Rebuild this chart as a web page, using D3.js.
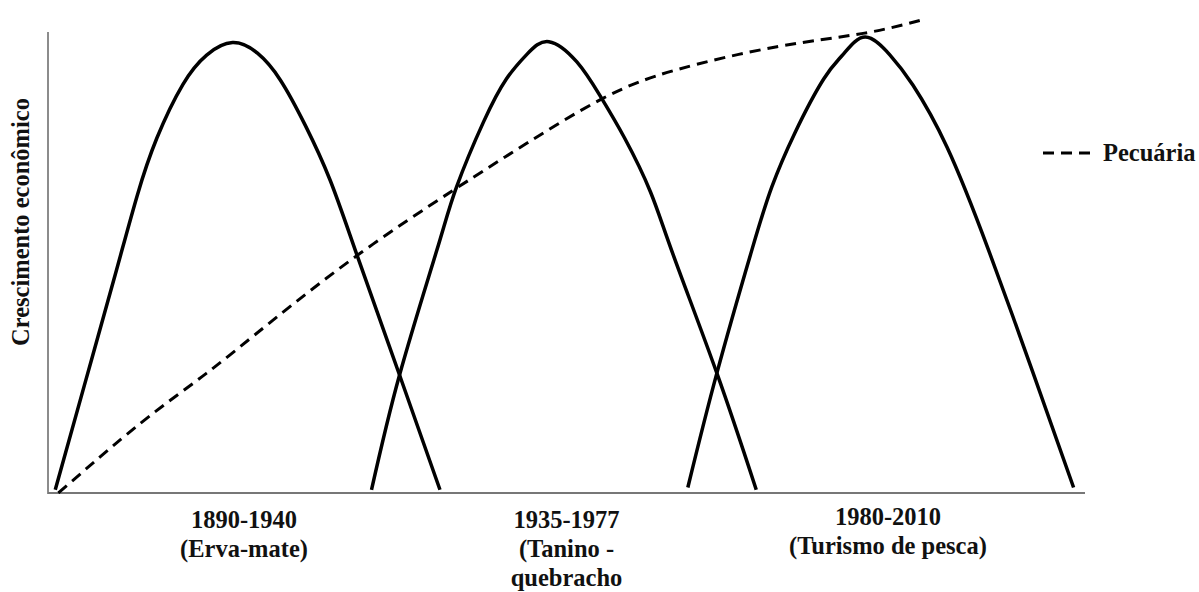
<!DOCTYPE html>
<html>
<head>
<meta charset="utf-8">
<script src="https://cdn.jsdelivr.net/npm/d3@7"></script>
<style>
  html, body { margin: 0; padding: 0; background: #fff; }
  svg text { font-family: "Liberation Serif", "Times New Roman", serif; font-weight: bold; fill: #111; }
</style>
</head>
<body>
<div id="chart"></div>
<script>
// cycles: [x, y] in arbitrary 0-100 units
const ervaMate = [[0.7, 0.7], [3.6, 24.1], [6.5, 47.5], [8.6, 64.5], [10.5, 77.0], [13.0, 88.6], [15.3, 95.0],
  [17.8, 97.7], [20.2, 95.4], [22.4, 89.6], [24.8, 79.8], [27.2, 67.9], [29.8, 51.6], [33.9, 25.6], [37.8, 0.7]];
const tanino = [[31.2, 0.7], [33.9, 25.6], [37.5, 52.7], [39.4, 66.4], [42.0, 80.5], [44.2, 89.8], [46.2, 95.2],
  [48.3, 97.9], [51.0, 93.5], [53.2, 86.3], [55.6, 77.0], [58.1, 65.3], [60.3, 51.6], [64.5, 26.0], [68.3, 0.7]];
const turismo = [[61.7, 1.2], [64.5, 26.0], [67.9, 52.9], [69.8, 66.4], [72.0, 78.0], [74.8, 89.8], [76.7, 95.2],
  [78.8, 98.9], [81.2, 95.0], [83.4, 88.5], [86.7, 75.0], [90.7, 52.7], [95.0, 26.0], [98.9, 1.2]];
const pecuaria = [[1.0, 0], [8.9, 15.1], [15.3, 26.0], [21.7, 37.5], [30.1, 52.0], [39.1, 65.7], [46.2, 75.9],
  [53.5, 85.6], [60.6, 91.8], [70.3, 96.8], [78.6, 99.7], [84.6, 102.8]];

const periods = ['1890-1940', '1935-1977', '1980-2010'];
const products = [['(Erva-mate)'], ['(Tanino -', 'quebracho'], ['(Turismo de pesca)']];
const labelX = [18.9, 50.0, 81.0];
const yTitle = 'Crescimento econômico';
const legendLabel = 'Pecuária';

const width = 1199, height = 592;
const svg = d3.select('#chart').append('svg')
  .attr('width', width).attr('height', height);

const x = d3.scaleLinear().domain([0, 100]).range([48, 1085]);
const y = d3.scaleLinear().domain([0, 100]).range([493, 32]);

// axes: plain lines, no ticks
svg.append('line')
  .attr('x1', x(0)).attr('x2', x(0))
  .attr('y1', y(0) + 1).attr('y2', y(100))
  .attr('stroke', '#666').attr('stroke-width', 1.5);
svg.append('line')
  .attr('x1', x(0)).attr('x2', x(100))
  .attr('y1', y(0)).attr('y2', y(0))
  .attr('stroke', '#777').attr('stroke-width', 2);

const line = d3.line()
  .x(d => x(d[0]))
  .y(d => y(d[1]))
  .curve(d3.curveNatural);

svg.selectAll('path.cycle')
  .data([ervaMate, tanino, turismo])
  .join('path')
  .attr('class', 'cycle')
  .attr('d', line)
  .attr('fill', 'none')
  .attr('stroke', '#000')
  .attr('stroke-width', 3.5);

svg.append('path')
  .datum(pecuaria)
  .attr('d', line)
  .attr('fill', 'none')
  .attr('stroke', '#000')
  .attr('stroke-width', 3)
  .attr('stroke-dasharray', '11,7');

// y title
svg.append('text')
  .attr('transform', `translate(29,222) rotate(-90)`)
  .attr('text-anchor', 'middle')
  .style('font-size', '24.5px')
  .text(yTitle);

// period labels under the axis
const groups = svg.selectAll('g.period')
  .data(periods)
  .join('g')
  .attr('class', 'period')
  .attr('transform', (d, i) => `translate(${x(labelX[i])},${i === 2 ? 525 : 528})`);

groups.append('text')
  .attr('text-anchor', 'middle')
  .style('font-size', '24.5px')
  .text(d => d);

groups.each(function(d, i) {
  d3.select(this).selectAll('text.prod')
    .data(products[i])
    .join('text')
    .attr('class', 'prod')
    .attr('text-anchor', 'middle')
    .attr('y', (t, j) => 29 * (j + 1))
    .style('font-size', '24.5px')
    .text(t => t);
});

// legend
const lg = svg.append('g').attr('transform', 'translate(1043,153)');
lg.append('line')
  .attr('x1', 0).attr('x2', 50)
  .attr('stroke', '#000').attr('stroke-width', 3)
  .attr('stroke-dasharray', '11,7');
lg.append('text')
  .attr('x', 60).attr('y', 8)
  .style('font-size', '24.5px')
  .text(legendLabel);
</script>
</body>
</html>
